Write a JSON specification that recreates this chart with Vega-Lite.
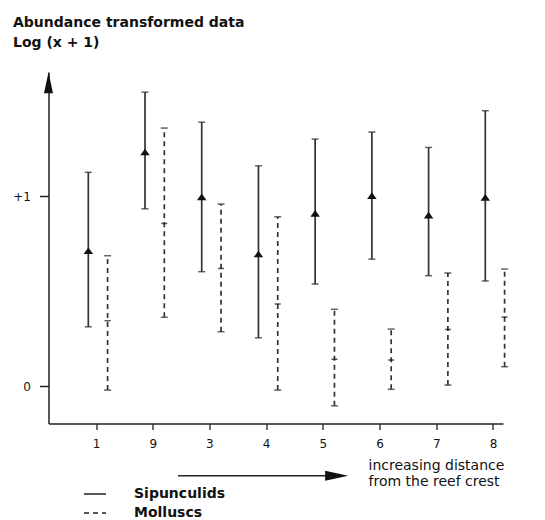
{
  "$schema": "https://vega.github.io/schema/vega-lite/v6.json",
  "width": 454.5,
  "height": 351.5,
  "autosize": "none",
  "padding": {"left": 48.5, "top": 72, "right": 42, "bottom": 96.5},
  "background": "white",
  "config": {
    "view": {"stroke": null},
    "font": "DejaVu Sans",
    "axis": {"grid": false}
  },
  "layer": [
    {
      "data": {
        "values": [
          {"site": "1", "group": "Sipunculids", "mean": 0.712, "lo": 0.312, "hi": 1.125},
          {"site": "1", "group": "Molluscs", "mean": 0.344, "lo": -0.021, "hi": 0.686},
          {"site": "9", "group": "Sipunculids", "mean": 1.232, "lo": 0.933, "hi": 1.547},
          {"site": "9", "group": "Molluscs", "mean": 0.856, "lo": 0.362, "hi": 1.358},
          {"site": "3", "group": "Sipunculids", "mean": 0.996, "lo": 0.602, "hi": 1.389},
          {"site": "3", "group": "Molluscs", "mean": 0.619, "lo": 0.286, "hi": 0.958},
          {"site": "4", "group": "Sipunculids", "mean": 0.695, "lo": 0.254, "hi": 1.159},
          {"site": "4", "group": "Molluscs", "mean": 0.432, "lo": -0.021, "hi": 0.891},
          {"site": "5", "group": "Sipunculids", "mean": 0.909, "lo": 0.537, "hi": 1.3},
          {"site": "5", "group": "Molluscs", "mean": 0.141, "lo": -0.104, "hi": 0.404},
          {"site": "6", "group": "Sipunculids", "mean": 1.002, "lo": 0.668, "hi": 1.337},
          {"site": "6", "group": "Molluscs", "mean": 0.137, "lo": -0.017, "hi": 0.3},
          {"site": "7", "group": "Sipunculids", "mean": 0.9, "lo": 0.581, "hi": 1.256},
          {"site": "7", "group": "Molluscs", "mean": 0.298, "lo": 0.005, "hi": 0.595},
          {"site": "8", "group": "Sipunculids", "mean": 0.993, "lo": 0.553, "hi": 1.449},
          {"site": "8", "group": "Molluscs", "mean": 0.363, "lo": 0.102, "hi": 0.616}
        ]
      },
      "encoding": {
        "x": {
          "field": "site",
          "type": "nominal",
          "sort": null,
          "scale": {"type": "point", "domain": ["1", "9", "3", "4", "5", "6", "7", "8"], "padding": 0.507, "align": 0.826},
          "axis": {
            "labelAngle": 0,
            "tickSize": 6,
            "tickWidth": 1.3,
            "tickColor": "#222",
            "domainColor": "#222",
            "domainWidth": 1.5,
            "labelPadding": 9,
            "labelFontSize": 12,
            "labelColor": "#111",
            "title": ["increasing distance", "from the reef crest"],
            "titleAlign": "left",
            "titleBaseline": "alphabetic",
            "titleX": 319.5,
            "titleY": 46,
            "titleFontSize": 14,
            "titleFontWeight": "normal",
            "titleLineHeight": 15.5,
            "titleColor": "#111"
          }
        },
        "xOffset": {
          "field": "group",
          "type": "nominal",
          "scale": {"domain": ["Sipunculids", "Molluscs"], "range": [-17.35, 21.25]}
        }
      },
      "layer": [
        {
          "mark": {"type": "rule", "color": "#333", "strokeWidth": 1.7},
          "encoding": {
            "y": {
              "field": "lo",
              "type": "quantitative",
              "scale": {"domain": [-0.197, 1.653], "nice": false, "zero": false},
              "axis": {
                "values": [0, 1],
                "labelExpr": "datum.value == 1 ? '+1' : '0'",
                "tickSize": 9,
                "tickWidth": 1.5,
                "tickColor": "#222",
                "domainColor": "#222",
                "domainWidth": 1.5,
                "labelPadding": 9,
                "labelFontSize": 12,
                "labelColor": "#111",
                "title": ["Abundance transformed data", "Log (x + 1)"],
                "titleAngle": 0,
                "titleAlign": "left",
                "titleBaseline": "alphabetic",
                "titleX": -36,
                "titleY": -45.3,
                "titleFontSize": 14,
                "titleFontWeight": "bold",
                "titleLineHeight": 20,
                "titleColor": "#111"
              }
            },
            "y2": {"field": "hi"},
            "strokeDash": {
              "field": "group",
              "type": "nominal",
              "scale": {"domain": ["Sipunculids", "Molluscs"], "range": [[1, 0], [5, 4]]},
              "legend": {
                "title": null,
                "orient": "none",
                "legendX": 34.5,
                "legendY": 410,
                "symbolType": "stroke",
                "symbolSize": 484,
                "symbolStrokeWidth": 1.7,
                "symbolStrokeColor": "#222",
                "labelFontSize": 14,
                "labelFontWeight": "bold",
                "labelColor": "#111",
                "labelOffset": 27,
                "rowPadding": -3
              }
            }
          }
        },
        {
          "mark": {"type": "tick", "orient": "horizontal", "color": "#222", "size": 7, "thickness": 1.5},
          "encoding": {"y": {"field": "hi", "type": "quantitative"}}
        },
        {
          "mark": {"type": "tick", "orient": "horizontal", "color": "#222", "size": 7, "thickness": 1.5},
          "encoding": {"y": {"field": "lo", "type": "quantitative"}}
        },
        {
          "transform": [{"filter": "datum.group === 'Sipunculids'"}],
          "mark": {"type": "point", "shape": "M0,-0.7L1,0.7L-1,0.7Z", "filled": true, "size": 90, "color": "#111", "opacity": 1},
          "encoding": {"y": {"field": "mean", "type": "quantitative"}}
        },
        {
          "transform": [{"filter": "datum.group === 'Molluscs'"}],
          "mark": {"type": "tick", "orient": "horizontal", "color": "#111", "size": 6, "thickness": 1.5},
          "encoding": {"y": {"field": "mean", "type": "quantitative"}}
        }
      ]
    },
    {
      "data": {"values": [{}]},
      "layer": [
        {
          "mark": {"type": "point", "shape": "M0,-1L0.43,1L-0.43,1Z", "filled": true, "size": 441, "color": "#111", "opacity": 1},
          "encoding": {
            "x": {"datum": 0, "type": "quantitative", "scale": {"domain": [0, 1], "nice": false, "zero": false}, "axis": null},
            "y": {"datum": 1.597, "type": "quantitative", "scale": {"domain": [-0.197, 1.653], "nice": false, "zero": false}}
          }
        },
        {
          "mark": {"type": "rule", "color": "#222", "strokeWidth": 1.5},
          "encoding": {
            "x": {"datum": 0.285, "type": "quantitative", "scale": {"domain": [0, 1], "nice": false, "zero": false}, "axis": null},
            "x2": {"datum": 0.62},
            "y": {"datum": -0.472, "type": "quantitative", "scale": {"domain": [-0.197, 1.653], "nice": false, "zero": false}}
          }
        },
        {
          "mark": {"type": "point", "shape": "M-1,-0.43L1,0L-1,0.43Z", "filled": true, "size": 529, "color": "#111", "opacity": 1},
          "encoding": {
            "x": {"datum": 0.634, "type": "quantitative", "scale": {"domain": [0, 1], "nice": false, "zero": false}, "axis": null},
            "y": {"datum": -0.472, "type": "quantitative", "scale": {"domain": [-0.197, 1.653], "nice": false, "zero": false}}
          }
        }
      ]
    }
  ],
  "resolve": {"scale": {"x": "independent"}}
}
